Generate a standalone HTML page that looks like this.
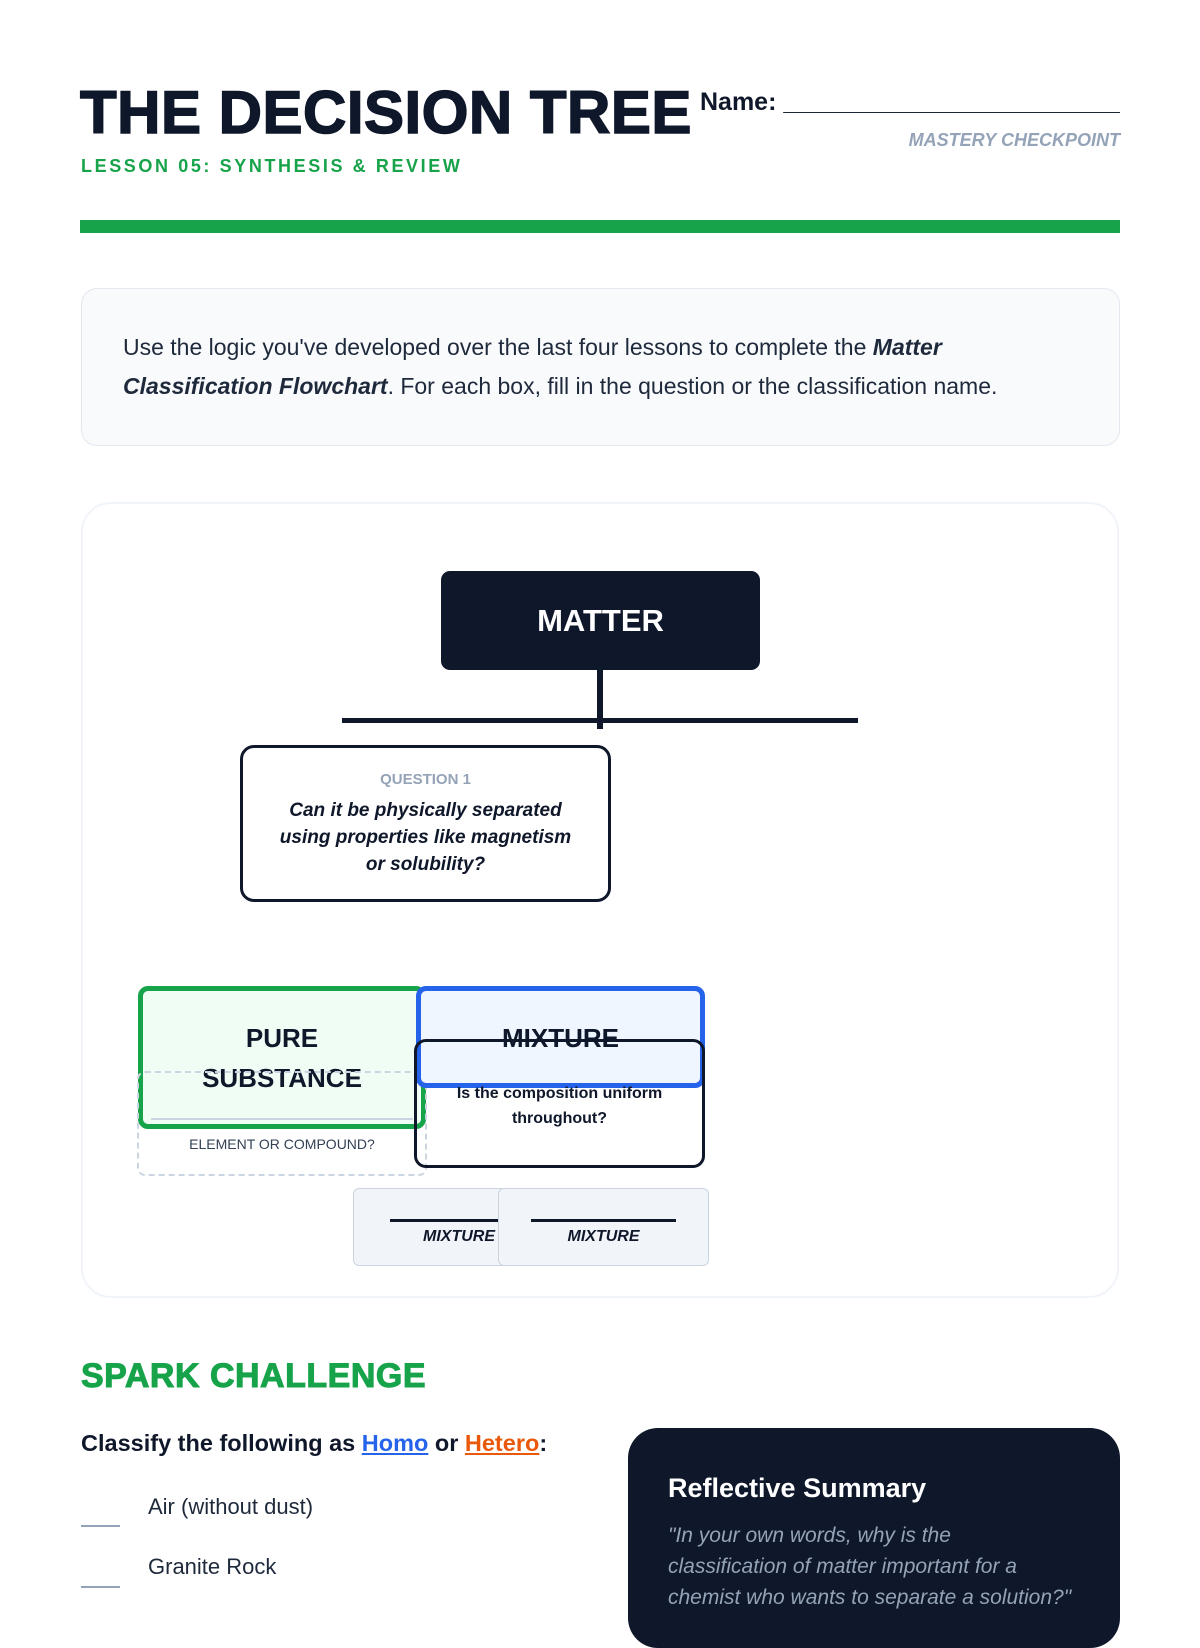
<!DOCTYPE html>
<html><head><meta charset="utf-8"><style>
*{margin:0;padding:0;box-sizing:border-box}
body{width:1200px;height:1600px;overflow:hidden;background:#fff;font-family:"Liberation Sans",sans-serif;color:#0f172a;position:relative}
.a{position:absolute}
.c{text-align:center}
.ul{display:block;margin:0 auto 4px;height:3px;background:#0f172a}
</style></head><body>
<div class="a" style="left:80px;top:78px;font-size:60px;font-weight:900;letter-spacing:0.5px;line-height:70px;-webkit-text-stroke:1.5px #0f172a;white-space:nowrap">THE DECISION TREE</div>
<div class="a" style="left:81px;top:156px;font-size:18px;font-weight:bold;letter-spacing:2.6px;color:#16a34a">LESSON 05: SYNTHESIS &amp; REVIEW</div>
<div class="a" style="left:700px;top:88px;font-size:25px;font-weight:bold;width:420px;white-space:nowrap;overflow:hidden">Name: ____________________________</div>
<div class="a" style="right:80px;top:130px;font-size:18px;font-weight:bold;font-style:italic;color:#94a3b8">MASTERY CHECKPOINT</div>
<div class="a" style="left:80px;top:220px;width:1040px;height:13px;background:#16a34a"></div>

<div class="a" style="left:81px;top:288px;width:1039px;height:158px;background:#f8fafc;border:1.5px solid #e2e8f0;border-radius:16px;padding:39px 40px 0 41px;font-size:23px;line-height:39px;color:#1e293b">Use the logic you've developed over the last four lessons to complete the <b><i>Matter Classification Flowchart</i></b>. For each box, fill in the question or the classification name.</div>

<div class="a" style="left:81px;top:502px;width:1038px;height:796px;border:2px solid #f1f5f9;border-radius:30px"></div>
<div class="a c" style="left:441px;top:571px;width:319px;height:99px;background:#0f172a;border-radius:9px;color:#fff;font-size:31px;font-weight:900;line-height:99px">MATTER</div>
<div class="a" style="left:597px;top:670px;width:6px;height:59px;background:#0f172a"></div>
<div class="a" style="left:342px;top:718px;width:516px;height:5px;background:#0f172a"></div>
<div class="a c" style="left:240px;top:745px;width:371px;height:157px;border:3px solid #0f172a;border-radius:14px;background:#fff">
<div style="margin-top:23px;font-size:15px;font-weight:bold;color:#94a3b8">QUESTION 1</div>
<div style="margin-top:9px;font-size:19px;font-weight:bold;font-style:italic;line-height:27px">Can it be physically separated<br>using properties like magnetism<br>or solubility?</div></div>

<div class="a c" style="left:138px;top:986px;width:288px;height:143px;border:5px solid #16a34a;border-radius:10px;background:#f0fdf4;font-size:26px;font-weight:900;line-height:40px;padding-top:27px">PURE<br>SUBSTANCE</div>
<div class="a" style="left:151px;top:1118px;width:262px;height:2px;background:#cbd5e1"></div>
<div class="a c" style="left:137px;top:1071px;width:290px;height:105px;border:2px dashed #cbd5e1;border-radius:8px;font-size:14px;color:#334155;padding-top:63px">ELEMENT OR COMPOUND?</div>

<div class="a c" style="left:416px;top:986px;width:289px;height:102px;border:5px solid #2563eb;border-radius:10px;background:#eff6ff;font-size:26px;font-weight:900;line-height:40px;padding-top:27px">MIXTURE</div>
<div class="a c" style="left:414px;top:1039px;width:291px;height:129px;border:3px solid #0f172a;border-radius:12px;font-size:16px;font-weight:bold;line-height:25px;padding-top:39px">Is the composition uniform<br>throughout?</div>

<div class="a c" style="left:353px;top:1188px;width:212px;height:78px;background:#f1f5f9;border:1.5px solid #cbd5e1;border-radius:6px;font-size:16px;font-weight:bold;font-style:italic;line-height:22px;padding-top:30px"><span class="ul" style="width:145px;margin-left:36px"></span>MIXTURE</div>
<div class="a c" style="left:498px;top:1188px;width:211px;height:78px;background:#f1f5f9;border:1.5px solid #cbd5e1;border-radius:6px;font-size:16px;font-weight:bold;font-style:italic;line-height:22px;padding-top:30px"><span class="ul" style="width:145px"></span>MIXTURE</div>

<div class="a" style="left:81px;top:1357px;font-size:34px;font-weight:900;color:#16a34a;-webkit-text-stroke:1px #16a34a;letter-spacing:0.5px">SPARK CHALLENGE</div>
<div class="a" style="left:81px;top:1430px;font-size:23.5px;font-weight:bold">Classify the following as <span style="color:#2563eb;text-decoration:underline">Homo</span> or <span style="color:#ea580c;text-decoration:underline">Hetero</span>:</div>
<div class="a" style="left:81px;top:1525px;width:39px;height:1.5px;background:#94a3b8"></div>
<div class="a" style="left:148px;top:1494px;font-size:22px;color:#1e293b">Air (without dust)</div>
<div class="a" style="left:81px;top:1586px;width:39px;height:1.5px;background:#94a3b8"></div>
<div class="a" style="left:148px;top:1554px;font-size:22px;color:#1e293b">Granite Rock</div>

<div class="a" style="left:628px;top:1428px;width:492px;height:220px;background:#0f172a;border-radius:30px;padding:45px 30px 0 40px">
<div style="font-size:27px;font-weight:bold;color:#fff">Reflective Summary</div>
<div style="margin-top:16px;width:415px;font-size:21px;font-style:italic;color:#94a3b8;line-height:31px">"In your own words, why is the<br>classification of matter important for a<br>chemist who wants to separate a solution?"</div></div>
</body></html>
